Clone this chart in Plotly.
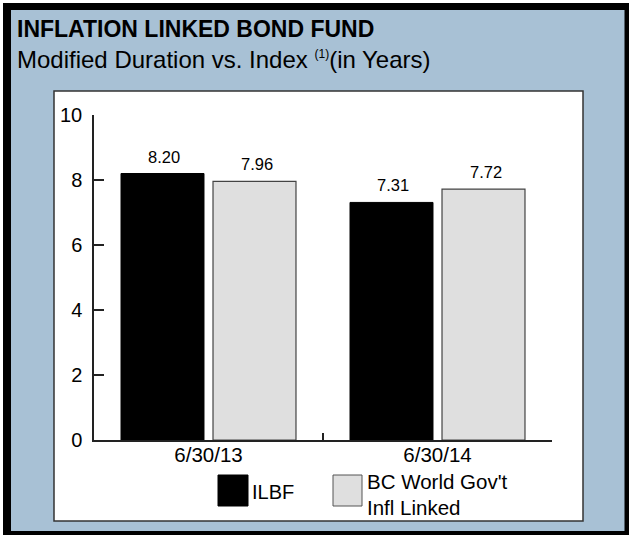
import plotly.graph_objects as go

# Data
categories = ["6/30/13", "6/30/14"]
ilbf = [8.20, 7.31]
bc_index = [7.96, 7.72]
y_ticks = [0, 2, 4, 6, 8, 10]
series_names = ["ILBF", "BC World Gov't Infl Linked"]

W, H = 629, 535
ML, MR, MT, MB = 94, 77, 115, 95
PW, PH = W - ML - MR, H - MT - MB
FONT = "Liberation Sans, Arial, Helvetica, sans-serif"
BARGAP, GROUPGAP = 0.1965, 0.098


def px(x):
    return (x - ML) / PW


def py(y):
    return (H - MB - y) / PH


fig = go.Figure()
fig.add_trace(go.Bar(
    name=series_names[0], x=categories, y=ilbf,
    marker=dict(color="#000000", line=dict(color="#000000", width=1)),
))
fig.add_trace(go.Bar(
    name=series_names[1], x=categories, y=bc_index,
    marker=dict(color="#dfdfdf", line=dict(color="#444444", width=1.2)),
))

shapes = [
    # outer frame
    dict(type="rect", xref="paper", yref="paper", x0=px(3), x1=px(640), y0=py(3), y1=py(545),
         fillcolor="#000000", line=dict(width=0), layer="below"),
    dict(type="rect", xref="paper", yref="paper", x0=px(11), x1=px(624.5), y0=py(10), y1=py(531),
         fillcolor="#a8c1d5", line=dict(width=0), layer="below"),
    # white chart panel
    dict(type="rect", xref="paper", yref="paper", x0=px(54), x1=px(583), y0=py(91), y1=py(521),
         fillcolor="#ffffff", line=dict(color="#333333", width=1.5), layer="below"),
    # legend swatches
    dict(type="rect", xref="paper", yref="paper", x0=px(218), x1=px(248), y0=py(475), y1=py(506),
         fillcolor="#000000", line=dict(color="#000000", width=1), layer="above"),
    dict(type="rect", xref="paper", yref="paper", x0=px(333), x1=px(362), y0=py(475), y1=py(506),
         fillcolor="#dfdfdf", line=dict(color="#555555", width=1), layer="above"),
]

annotations = [
    dict(text="<b>INFLATION LINKED BOND FUND</b>", x=px(15), y=py(29), xanchor="left", yanchor="middle",
         font=dict(size=23, color="#000000", family=FONT)),
    dict(text="Modified Duration vs. Index <sup><span style='font-size:12px'>(1)</span></sup>(in Years)",
         x=px(15), y=py(59.5), xanchor="left", yanchor="middle",
         font=dict(size=24, color="#000000", family=FONT)),
    dict(text="ILBF", x=px(250), y=py(492), xanchor="left", yanchor="middle",
         font=dict(size=20, color="#000000", family=FONT)),
    dict(text="BC World Gov't", x=px(365), y=py(481.5), xanchor="left", yanchor="middle",
         font=dict(size=20.5, color="#000000", family=FONT)),
    dict(text="Infl Linked", x=px(365), y=py(507), xanchor="left", yanchor="middle",
         font=dict(size=20.5, color="#000000", family=FONT)),
]
for a in annotations:
    a.update(xref="paper", yref="paper", showarrow=False)

# value labels above each bar, offset to the bar's slot within its group
slot_px = PW / len(categories) * (1 - BARGAP) / 2
for values, side in ((ilbf, -1), (bc_index, 1)):
    for cat, v in zip(categories, values):
        annotations.append(dict(
            text=f"{v:.2f}", x=cat, y=v, xref="x", yref="y", showarrow=False,
            xanchor="center", yanchor="bottom", xshift=side * slot_px / 2 + 2, yshift=6,
            font=dict(size=16.5, color="#000000", family=FONT),
        ))

fig.update_layout(
    width=W, height=H,
    margin=dict(l=ML, r=MR, t=MT, b=MB, pad=0),
    paper_bgcolor="#ffffff", plot_bgcolor="rgba(0,0,0,0)",
    barmode="group", bargap=BARGAP, bargroupgap=GROUPGAP,
    showlegend=False,
    font=dict(family=FONT, color="#000000"),
    shapes=shapes, annotations=annotations,
    xaxis=dict(type="category", range=[-0.5, 1.5], showline=True, linecolor="#222222", linewidth=1.5,
               ticks="inside", tickson="boundaries", ticklen=7, tickcolor="#222222", tickwidth=1.5,
               ticklabelstandoff=-4,
               tickfont=dict(size=20.5, family=FONT, color="#000000"), showgrid=False, zeroline=False),
    yaxis=dict(range=[0, 10], tickvals=y_ticks, showline=True, linecolor="#222222", linewidth=1.5,
               ticks="inside", ticklen=10, tickcolor="#222222", tickwidth=1.5, ticklabelstandoff=6,
               tickfont=dict(size=20, family=FONT, color="#000000"), showgrid=False, zeroline=False),
)

fig.write_html("out.html")
